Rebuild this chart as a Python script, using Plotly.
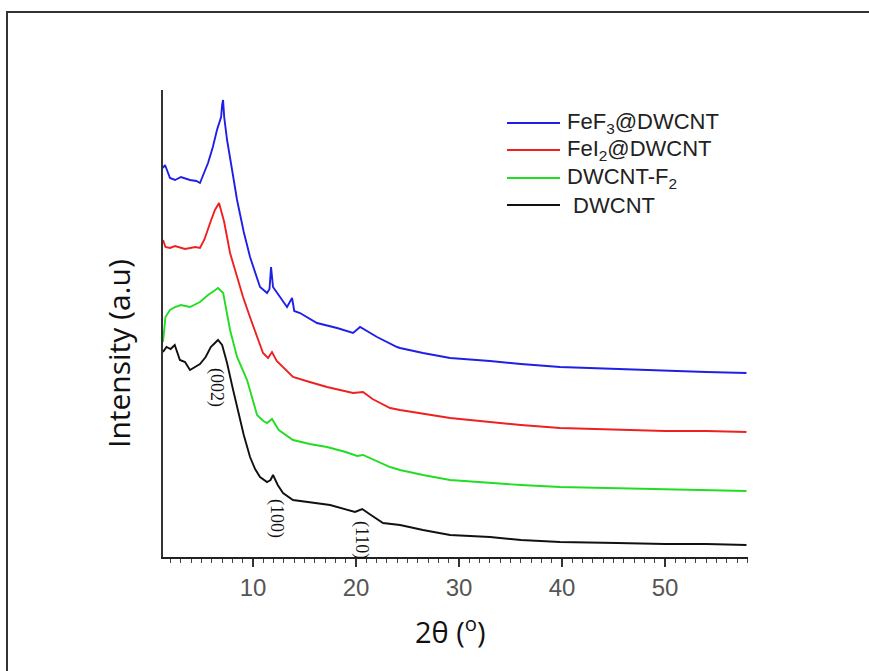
import plotly.graph_objects as go

# ---- data (2theta in degrees, intensity in arbitrary units, offsets included) ----
x_dwcnt = [1.26, 1.6, 2.0, 2.4, 2.9, 3.4, 3.88, 4.4, 4.85, 5.4, 5.9, 6.3, 6.6, 7.0, 7.48, 8.0, 8.45, 9.1, 9.71,
           10.2, 10.68, 11.36, 11.7, 11.94, 12.4, 12.91, 13.88, 15.5, 17.48, 19.9, 20.6, 21.3, 22.62, 24.27,
           26.5, 29.13, 33.0, 36.0, 39.8, 45.34, 50.0, 54.0, 57.9]
y_dwcnt = [205, 210, 208, 212, 197, 195, 187, 190, 193, 200, 210, 214, 217, 212, 194, 170, 150, 122, 100,
           88, 80, 75, 77, 82, 72, 64, 57, 55, 52, 45, 48, 43, 34, 32,
           27, 22, 20, 17, 15, 14, 13, 13, 12]

x_f2 = [1.26, 1.5, 1.94, 2.43, 3.0, 3.88, 4.85, 5.63, 6.2, 6.6, 7.1, 7.77, 8.45, 9.42, 10.39, 11.0, 11.36, 11.84,
        12.5, 13.88, 15.5, 17.18, 19.0, 20.1, 20.68, 21.5, 23.3, 24.27, 26.5, 29.13, 33.0, 36.0, 39.8, 45.34, 50.0, 54.0, 57.9]
y_f2 = [215, 240, 247, 250, 252, 250, 255, 262, 266, 269, 264, 227, 200, 177, 142, 136, 134, 138,
        127, 117, 113, 110, 105, 101, 102, 98, 90, 87, 82, 77, 74, 72, 70, 69, 68, 67, 66]

x_fei2 = [1.26, 1.5, 1.94, 2.43, 3.4, 4.4, 4.85, 5.3, 5.83, 6.3, 6.7, 7.2, 7.77, 8.4, 9.03, 9.7, 10.39, 10.97, 11.46,
          11.84, 12.3, 12.91, 13.88, 15.5, 17.18, 19.71, 20.68, 21.6, 23.3, 24.27, 26.5, 29.13, 33.0, 36.0, 39.8,
          45.34, 50.0, 54.0, 57.9]
y_fei2 = [317, 310, 309, 311, 308, 310, 309, 318, 334, 347, 354, 335, 304, 282, 260, 240, 220, 204, 199,
          205, 196, 190, 180, 175, 170, 164, 165, 158, 149, 147, 143, 139, 135, 132, 129,
          127, 126, 126, 125]

x_fef3 = [1.26, 1.46, 1.94, 2.43, 3.0, 3.88, 4.5, 4.85, 5.63, 6.1, 6.5, 6.9, 7.0, 7.09, 7.2, 7.48, 8.0, 8.45, 9.1,
          9.71, 10.68, 11.36, 11.6, 11.75, 11.94, 12.6, 13.3, 13.79, 14.0, 14.56, 16.21, 18.16, 19.71, 20.39,
          21.0, 22.04, 23.98, 24.27, 26.5, 29.13, 33.0, 36.0, 39.8, 45.34, 50.0, 54.0, 57.9]
y_fef3 = [389, 392, 379, 377, 380, 377, 376, 374, 394, 410, 427, 440, 452, 457, 440, 417, 385, 357, 325,
          300, 270, 264, 268, 290, 270, 260, 250, 259, 246, 244, 234, 229, 224, 230,
          226, 220, 210, 209, 204, 199, 196, 193, 190, 188, 186, 185, 184]

names = ["FeF<sub>3</sub>@DWCNT", "FeI<sub>2</sub>@DWCNT", "DWCNT-F<sub>2</sub>", " DWCNT"]
colors = ["#1f1fe6", "#ee2020", "#22dd22", "#111111"]

x_ticks = [10, 20, 30, 40, 50]
peak_labels = ["(002)", "(100)", "(110)"]
peak_x = [6.5, 12.33, 20.58]
peak_y = [169, 39, 17]

fig = go.Figure()
series = [(x_fef3, y_fef3), (x_fei2, y_fei2), (x_f2, y_f2), (x_dwcnt, y_dwcnt)]
for (xs, ys), nm, c in zip(series, names, colors):
    fig.add_trace(go.Scatter(x=xs, y=ys, mode="lines", name=nm, showlegend=False,
                             line=dict(color=c, width=1.9)))

W, H = 869, 671
L, R, T, B = 163, 748, 90, 557
def px(xp):
    return (xp - L) / (R - L)
def py(yp):
    return (B - yp) / (B - T)

shapes = []
annotations = []
# manual legend
leg_rows = [123, 150, 178, 205]
for nm, c, r in zip(names, colors, leg_rows):
    shapes.append(dict(type="line", xref="paper", yref="paper", x0=px(507), x1=px(560), y0=py(r), y1=py(r),
                       line=dict(color=c, width=1.9)))
    annotations.append(dict(xref="paper", yref="paper", x=px(565), y=py(r), xanchor="left", yanchor="middle",
                            text=nm, showarrow=False,
                            font=dict(family="Liberation Sans, Arial", size=22, color="#222222")))

# frame lines
shapes.append(dict(type="line", xref="paper", yref="paper", x0=px(6), x1=px(869), y0=py(12), y1=py(12),
                   line=dict(color="#333333", width=2)))
shapes.append(dict(type="line", xref="paper", yref="paper", x0=px(7), x1=px(7), y0=py(12), y1=py(671),
                   line=dict(color="#333333", width=2)))

# peak labels
for t, xv, yv in zip(peak_labels, peak_x, peak_y):
    annotations.append(dict(x=xv, y=yv, xref="x", yref="y", text=t, showarrow=False, textangle=90,
                            xanchor="center", yanchor="middle",
                            font=dict(family="Liberation Serif, Times New Roman", size=18, color="#111111")))

# axis titles
annotations.append(dict(xref="paper", yref="paper", x=px(450), y=py(630), text="2θ (<sup>o</sup>)",
                        xanchor="center", yanchor="middle",
                        showarrow=False, font=dict(family="Open Sans", size=29, color="#111111")))
annotations.append(dict(xref="paper", yref="paper", x=px(118), y=py(354), text="Intensity (a.u)", textangle=-90,
                        xanchor="center", yanchor="middle",
                        showarrow=False, font=dict(family="Open Sans", size=30, color="#111111")))

fig.update_layout(
    width=W, height=H,
    margin=dict(l=L, r=W - R, t=T, b=H - B),
    paper_bgcolor="white", plot_bgcolor="white",
    shapes=shapes, annotations=annotations,
    showlegend=False,
    xaxis=dict(range=[1.26, 58.05], tickvals=x_ticks, ticks="outside", ticklen=8, tickwidth=1.5,
               tickcolor="#333333", showline=True, linecolor="#222222", linewidth=2, showgrid=False,
               zeroline=False,
               tickfont=dict(family="Liberation Sans, Arial", size=24, color="#555555"),
               minor=dict(dtick=1, ticks="outside", ticklen=4, tickwidth=1.2, tickcolor="#444444", showgrid=False)),
    yaxis=dict(range=[0, 467], showticklabels=False, ticks="", showline=True, linecolor="#333333", linewidth=2,
               showgrid=False, zeroline=False),
)

fig.write_html("out.html")
